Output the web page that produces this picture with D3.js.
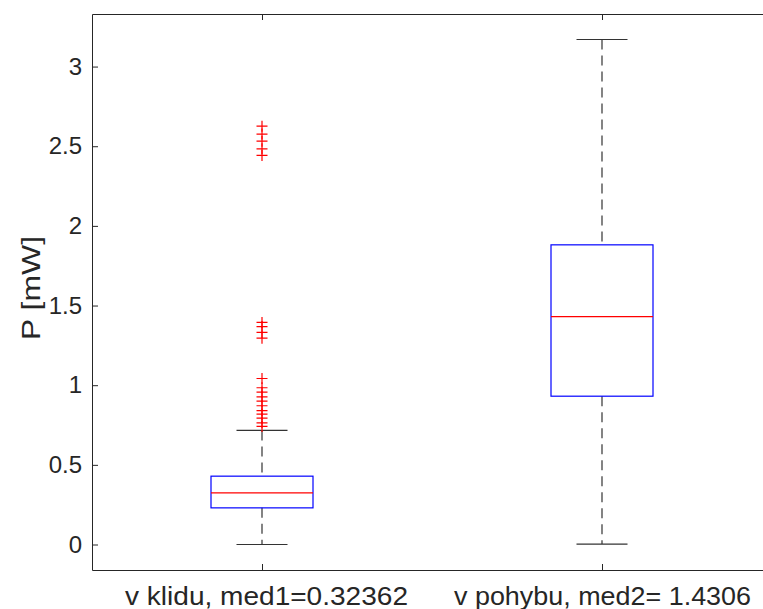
<!DOCTYPE html>
<html>
<head>
<meta charset="utf-8">
<script src="https://cdn.jsdelivr.net/npm/d3@7"></script>
<style>
  body { margin: 0; background: #fff; overflow: hidden; }
  svg text { font-family: 'Liberation Sans', Arial, sans-serif; fill: #262626; }
</style>
</head>
<body>
<div id="chart"></div>
<script>
// box statistics
const categories = ['v klidu, med1=0.32362', 'v pohybu, med2= 1.4306'];
const q1 = [0.230, 0.931];
const medians = [0.32362, 1.4306];
const q3 = [0.429, 1.881];
const whiskerLow = [0, 0.003];
const whiskerHigh = [0.716, 3.17];
// outliers of the first group (second has none)
const outliers1 = [2.626, 2.576, 2.532, 2.484, 2.442,
  1.394, 1.368, 1.331, 1.295,
  1.042, 0.984, 0.956, 0.927, 0.900, 0.871, 0.841, 0.818, 0.793, 0.764, 0.741];
const yTicks = [0, 0.5, 1, 1.5, 2, 2.5, 3];

const width = 763;
const height = 609;
const plotLeft = 92;
const plotRight = 772;
const plotTop = 14;
const plotBottom = 570;
const axisColor = '#262626';

const svg = d3.select('#chart')
  .append('svg')
  .attr('width', width)
  .attr('height', height);

const xScale = d3.scaleLinear().domain([0.5, 2.5]).range([plotLeft, plotRight]);
const yScale = d3.scaleLinear().domain([-0.16, 3.33]).range([plotBottom, plotTop]);

const boxW = 0.3;
const capW = 0.15;

const groups = categories.map((c, i) => ({
  i, x: i + 1, q1: q1[i], med: medians[i], q3: q3[i], lo: whiskerLow[i], hi: whiskerHigh[i],
}));

const g = svg.append('g');

// whiskers (dashed)
g.selectAll('.whisk-up').data(groups).enter().append('line')
  .attr('x1', d => xScale(d.x)).attr('x2', d => xScale(d.x))
  .attr('y1', d => yScale(d.hi)).attr('y2', d => yScale(d.q3))
  .attr('stroke', '#333').attr('stroke-width', 1.2).attr('stroke-dasharray', '10,6');
g.selectAll('.whisk-down').data(groups).enter().append('line')
  .attr('x1', d => xScale(d.x)).attr('x2', d => xScale(d.x))
  .attr('y1', d => yScale(d.q1)).attr('y2', d => yScale(d.lo))
  .attr('stroke', '#333').attr('stroke-width', 1.2).attr('stroke-dasharray', '10,6');

// whisker caps
['hi', 'lo'].forEach(k => {
  g.selectAll(`.cap-${k}`).data(groups).enter().append('line')
    .attr('x1', d => xScale(d.x - capW / 2)).attr('x2', d => xScale(d.x + capW / 2))
    .attr('y1', d => yScale(d[k])).attr('y2', d => yScale(d[k]))
    .attr('stroke', '#333').attr('stroke-width', 1.2);
});

// boxes
g.selectAll('.box').data(groups).enter().append('rect')
  .attr('x', d => xScale(d.x - boxW / 2))
  .attr('y', d => yScale(d.q3))
  .attr('width', d => xScale(d.x + boxW / 2) - xScale(d.x - boxW / 2))
  .attr('height', d => yScale(d.q1) - yScale(d.q3))
  .attr('fill', 'none').attr('stroke', '#0000ff').attr('stroke-width', 1.2);

// medians
g.selectAll('.median').data(groups).enter().append('line')
  .attr('x1', d => xScale(d.x - boxW / 2)).attr('x2', d => xScale(d.x + boxW / 2))
  .attr('y1', d => yScale(d.med)).attr('y2', d => yScale(d.med))
  .attr('stroke', '#ff0000').attr('stroke-width', 1.2);

// outliers as red plus signs
const plus = 5.5;
g.selectAll('.out').data(outliers1).enter().append('path')
  .attr('d', v => {
    const cx = xScale(1);
    const cy = yScale(v);
    return `M${cx - plus},${cy}H${cx + plus}M${cx},${cy - plus}V${cy + plus}`;
  })
  .attr('stroke', '#ff0000').attr('stroke-width', 1.2).attr('fill', 'none');

// axes
const yAxis = svg.append('g')
  .attr('transform', `translate(${plotLeft},0)`)
  .call(d3.axisLeft(yScale).tickValues(yTicks).tickFormat(d3.format('')).tickSizeInner(-6).tickSizeOuter(0).tickPadding(10));
yAxis.selectAll('text').style('font-size', '24px');

// category labels are wider in the original, stretch them a little
const labelLengths = [283, 297];
const xAxis = svg.append('g')
  .attr('transform', `translate(0,${plotBottom})`)
  .call(d3.axisBottom(xScale).tickValues([1, 2]).tickFormat((d, i) => categories[i]).tickSizeInner(-6).tickSizeOuter(0));
xAxis.selectAll('text')
  .style('font-size', '25px')
  .attr('y', 35).attr('dy', 0)
  .attr('x', (d, i) => (i === 0 ? 4 : 0))
  .attr('textLength', (d, i) => labelLengths[i])
  .attr('lengthAdjust', 'spacingAndGlyphs');

svg.append('g')
  .attr('transform', `translate(0,${plotTop})`)
  .call(d3.axisTop(xScale).tickValues([1, 2]).tickFormat('').tickSizeInner(-6).tickSizeOuter(0));

svg.append('g')
  .attr('transform', `translate(${plotRight},0)`)
  .call(d3.axisRight(yScale).tickValues(yTicks).tickFormat('').tickSizeInner(-6).tickSizeOuter(0));

svg.selectAll('.domain, .tick line').attr('stroke', axisColor).attr('stroke-width', 1);

// y label
svg.append('text')
  .attr('transform', `translate(40,288) rotate(-90)`)
  .attr('text-anchor', 'middle')
  .style('font-size', '25px')
  .attr('textLength', 104)
  .attr('lengthAdjust', 'spacingAndGlyphs')
  .text('P [mW]');
</script>
</body>
</html>
